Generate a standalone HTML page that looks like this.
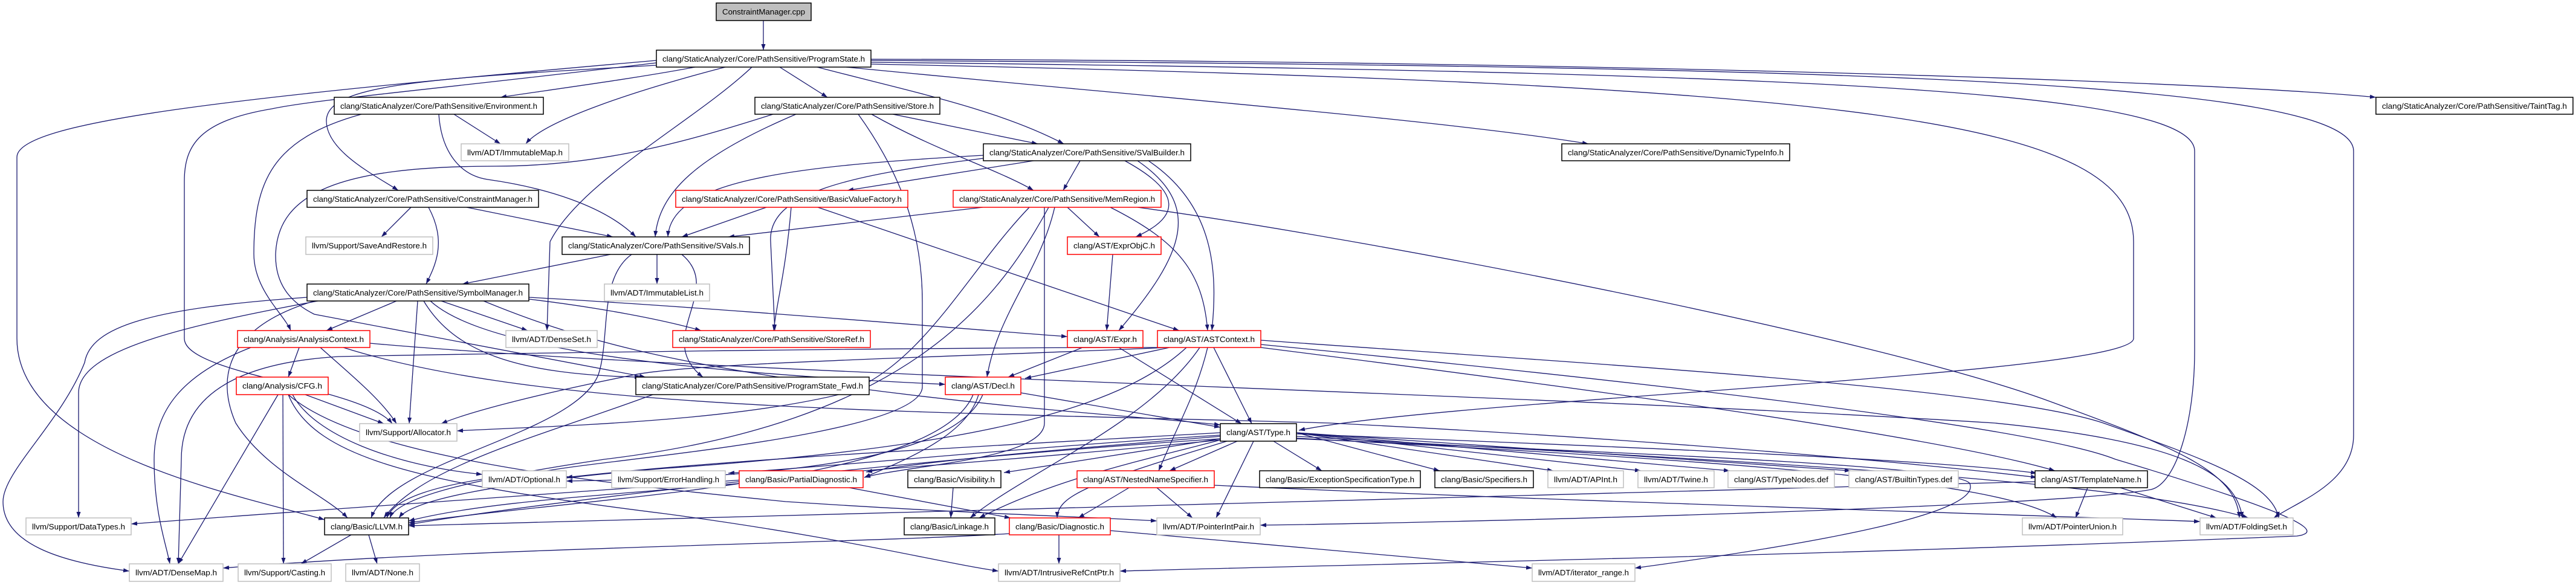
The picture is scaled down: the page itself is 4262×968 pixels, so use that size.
<!DOCTYPE html>
<html><head><meta charset="utf-8"><style>
html,body{margin:0;padding:0;background:#fff}
svg{display:block}
text{font-family:"Liberation Sans",sans-serif;font-size:13px;fill:#000}
.e{fill:none;stroke:#191970;stroke-width:1.3;marker-end:url(#a)}
.b{fill:#fff;stroke:#000;stroke-width:1.5}
.r{fill:#fff;stroke:#f00;stroke-width:1.5}
.g{fill:#fff;stroke:#bfbfbf;stroke-width:1.5}
</style></head><body>
<svg width="4262" height="968" viewBox="0 0 4262 968" xmlns="http://www.w3.org/2000/svg">
<defs><marker id="a" markerUnits="userSpaceOnUse" markerWidth="12" markerHeight="10" refX="10" refY="3.5" orient="auto"><path d="M0,0 L10,3.5 L0,7 z" fill="#191970"/></marker></defs>
<g>
<path class="e" d="M1263,34 L1263,83"/>
<path class="e" d="M1150,111 C1050,130 900,150 828,161"/>
<path class="e" d="M1200,111 C1050,150 900,200 870,238"/>
<path class="e" d="M1086,108 C700,130 540,140 540,200 C540,250 620,290 659,315"/>
<path class="e" d="M1290,111 L1369,161"/>
<path class="e" d="M1352,111 C1500,150 1650,180 1760,238"/>
<path class="e" d="M1400,111 C1900,160 2400,200 2628,238"/>
<path class="e" d="M1441,98 C2500,100 3600,130 3931,161"/>
<path class="e" d="M1441,100 C3000,110 3894,130 3894,250 L3894,720 C3894,800 3800,830 3762,857"/>
<path class="e" d="M1441,103 C3000,120 3631,150 3631,250 L3631,580 C3631,700 3600,800 3559,810 C3400,840 2400,865 2085,869"/>
<path class="e" d="M1441,106 C3100,140 3530,200 3530,400 L3530,560 C3530,620 2400,660 2149,712"/>
<path class="e" d="M1086,100 C400,160 28,200 28,260 L28,560 C28,750 400,820 537,860"/>
<path class="e" d="M1086,104 C700,150 520,165 450,180 C330,200 305,240 305,300 L305,560 C305,620 600,640 649,701"/>
<path class="e" d="M1244,111 C1150,200 960,300 910,400 L905,547"/>
<path class="e" d="M1279,189 C1150,230 1000,275 820,275 C560,275 460,320 456,420 C455,470 480,500 520,520 L1068,624"/>
<path class="e" d="M598,189 C450,230 420,300 420,420 C420,480 470,520 481,547"/>
<path class="e" d="M751,189 L828,238"/>
<path class="e" d="M726,189 C730,250 760,290 807,297 C900,310 1000,340 1052,392"/>
<path class="e" d="M680,343 L631,392"/>
<path class="e" d="M709,343 C740,400 720,440 705,470"/>
<path class="e" d="M772,343 L1014,392"/>
<path class="e" d="M1317,189 C1150,260 1090,320 1084,392"/>
<path class="e" d="M1420,189 C1500,300 1526,400 1526,500 L1526,640 C1526,720 1000,760 900,780 C700,800 650,830 640,857"/>
<path class="e" d="M1442,189 C1550,250 1650,280 1710,315"/>
<path class="e" d="M1477,189 L1717,238"/>
<path class="e" d="M1627,257 C1300,275 1110,300 1105,392"/>
<path class="e" d="M1627,262 C1400,290 1270,320 1275,400 L1282,547"/>
<path class="e" d="M1710,266 L1402,315"/>
<path class="e" d="M1787,266 L1759,315"/>
<path class="e" d="M1861,266 C1960,320 1950,360 1879,392"/>
<path class="e" d="M1882,266 C1990,340 1960,420 1851,547"/>
<path class="e" d="M1900,266 C2010,340 2015,450 2005,547"/>
<path class="e" d="M1882,343 C2300,400 3100,560 3380,660 C3600,740 3700,780 3705,857"/>
<path class="e" d="M1626,343 L1205,392"/>
<path class="e" d="M1766,343 L1819,392"/>
<path class="e" d="M1703,343 C1600,450 1530,600 1400,650 C1200,700 900,705 756,713"/>
<path class="e" d="M1735,343 C1650,500 1500,700 1000,760 C800,790 660,820 645,857"/>
<path class="e" d="M1745,343 C1720,450 1650,520 1633,624"/>
<path class="e" d="M1728,343 L1728,700 C1728,760 1500,770 1430,790"/>
<path class="e" d="M1837,343 C1950,400 1990,450 1998,547"/>
<path class="e" d="M1268,343 L1128,392"/>
<path class="e" d="M1309,343 C1300,450 1285,500 1280,547"/>
<path class="e" d="M1353,343 L1951,547"/>
<path class="e" d="M1841,421 L1831,547"/>
<path class="e" d="M1128,421 C1200,480 1080,560 1163,624"/>
<path class="e" d="M1087,421 L1087,470"/>
<path class="e" d="M1010,421 L765,470"/>
<path class="e" d="M1045,421 C990,460 1010,560 990,620 C950,720 650,760 614,857"/>
<path class="e" d="M508,492 C250,510 150,540 140,600 C100,700 5,780 5,830 C5,900 100,930 214,945"/>
<path class="e" d="M526,498 C300,540 130,580 130,650 L130,857"/>
<path class="e" d="M656,498 L540,547"/>
<path class="e" d="M691,498 L677,701"/>
<path class="e" d="M730,498 L873,547"/>
<path class="e" d="M701,498 C750,580 850,620 1060,624"/>
<path class="e" d="M712,498 C780,560 1000,610 1564,636"/>
<path class="e" d="M875,492 C1200,510 1600,545 1766,557"/>
<path class="e" d="M800,498 C950,560 1100,600 1400,640 C1700,680 1900,690 2019,703"/>
<path class="e" d="M520,498 C380,540 355,620 390,700 C440,780 540,820 575,857"/>
<path class="e" d="M875,495 C1000,510 1100,530 1160,547"/>
<path class="e" d="M415,575 C300,620 255,680 255,760 C255,850 275,900 281,933"/>
<path class="e" d="M495,575 L477,624"/>
<path class="e" d="M530,575 C580,620 630,660 656,701"/>
<path class="e" d="M612,568 C1200,620 2500,650 3300,700 C3600,730 3700,780 3710,857"/>
<path class="e" d="M568,575 C900,680 1500,680 2200,700 C2800,730 3200,770 3370,790"/>
<path class="e" d="M460,653 L295,933"/>
<path class="e" d="M468,653 L469,933"/>
<path class="e" d="M505,653 L635,701"/>
<path class="e" d="M484,653 C520,720 650,770 798,785"/>
<path class="e" d="M477,653 C520,760 700,800 1100,850 C1400,890 1550,930 1652,945"/>
<path class="e" d="M477,653 C600,760 1000,800 1300,830 C1600,850 1800,855 1914,862"/>
<path class="e" d="M1791,575 L1668,624"/>
<path class="e" d="M1851,575 L2054,701"/>
<path class="e" d="M1935,575 L1696,626"/>
<path class="e" d="M1963,575 C1850,680 1600,740 1100,775 C800,800 680,830 660,857"/>
<path class="e" d="M1985,575 C1900,700 1700,780 1605,857"/>
<path class="e" d="M1998,575 C1980,650 1950,700 1917,779"/>
<path class="e" d="M2008,575 L2071,701"/>
<path class="e" d="M2086,563 C2600,600 3300,640 3480,700 C3650,760 3760,800 3770,857"/>
<path class="e" d="M2086,575 C2600,640 3200,720 3400,779"/>
<path class="e" d="M1931,575 C1600,590 1150,600 1050,620 C900,650 780,680 730,701"/>
<path class="e" d="M1915,575 C1500,575 800,585 560,590 C400,600 300,650 300,760 L295,933"/>
<path class="e" d="M2086,570 C2600,620 3350,700 3500,760 C3800,850 3850,880 3800,887 C3000,920 2200,935 1853,945"/>
<path class="e" d="M1689,650 L2019,707"/>
<path class="e" d="M1626,653 C1580,760 1300,790 937,796"/>
<path class="e" d="M1619,653 C1600,720 1500,760 1430,790"/>
<path class="e" d="M1610,653 C1550,800 1000,820 676,865"/>
<path class="e" d="M1080,653 C900,720 700,770 635,857"/>
<path class="e" d="M2019,716 C1600,740 1200,760 937,790"/>
<path class="e" d="M2019,720 C1700,740 1400,770 1205,783"/>
<path class="e" d="M2019,722 C1800,740 1550,760 1433,781"/>
<path class="e" d="M2019,726 L1661,782"/>
<path class="e" d="M2047,730 L1935,779"/>
<path class="e" d="M2074,730 L2012,857"/>
<path class="e" d="M2107,730 L2187,779"/>
<path class="e" d="M2145,716 L2382,779"/>
<path class="e" d="M2145,716 L2570,779"/>
<path class="e" d="M2145,716 L2715,779"/>
<path class="e" d="M2145,716 L2862,779"/>
<path class="e" d="M2145,716 L3062,779"/>
<path class="e" d="M2145,718 C2700,740 3200,760 3370,783"/>
<path class="e" d="M2145,725 C2800,760 3300,790 3403,857"/>
<path class="e" d="M2145,722 C2800,760 3500,790 3720,857"/>
<path class="e" d="M2145,726 C2700,750 3240,770 3259,800 C3280,850 3000,900 2705,940"/>
<path class="e" d="M2019,728 C1900,760 1750,790 1620,857"/>
<path class="e" d="M2030,730 C1800,800 1750,820 1749,857"/>
<path class="e" d="M2019,726 C1500,760 900,830 676,868"/>
<path class="e" d="M2019,728 C1500,780 700,830 217,867"/>
<path class="e" d="M1670,883 C1400,900 800,905 369,940"/>
<path class="e" d="M1752,885 L1752,933"/>
<path class="e" d="M1837,878 L2535,940"/>
<path class="e" d="M1868,807 L1784,857"/>
<path class="e" d="M1914,807 L1973,857"/>
<path class="e" d="M2009,803 C2600,830 3300,850 3640,863"/>
<path class="e" d="M1405,807 L1672,857"/>
<path class="e" d="M1223,800 C1000,820 800,830 676,862"/>
<path class="e" d="M1577,807 L1573,857"/>
<path class="e" d="M3454,807 L3434,857"/>
<path class="e" d="M3508,807 L3667,857"/>
<path class="e" d="M3367,797 C3000,810 2000,840 676,870"/>
<path class="e" d="M581,885 L498,933"/>
<path class="e" d="M610,885 L624,933"/>
</g>
<g>
<rect x="1185" y="5" width="157" height="29" fill="#bfbfbf" stroke="#000" stroke-width="1.5"/><text x="1263.5" y="24" text-anchor="middle" textLength="137" lengthAdjust="spacingAndGlyphs">ConstraintManager.cpp</text>
<rect class="b" x="1086" y="83" width="355" height="28"/><text x="1263.5" y="102" text-anchor="middle" textLength="335" lengthAdjust="spacingAndGlyphs">clang/StaticAnalyzer/Core/PathSensitive/ProgramState.h</text>
<rect class="b" x="553" y="161" width="346" height="28"/><text x="726" y="180" text-anchor="middle" textLength="326" lengthAdjust="spacingAndGlyphs">clang/StaticAnalyzer/Core/PathSensitive/Environment.h</text>
<rect class="b" x="1249" y="161" width="306" height="28"/><text x="1402" y="180" text-anchor="middle" textLength="286" lengthAdjust="spacingAndGlyphs">clang/StaticAnalyzer/Core/PathSensitive/Store.h</text>
<rect class="b" x="3931" y="161" width="326" height="28"/><text x="4094" y="180" text-anchor="middle" textLength="306" lengthAdjust="spacingAndGlyphs">clang/StaticAnalyzer/Core/PathSensitive/TaintTag.h</text>
<rect class="g" x="763" y="238" width="178" height="28"/><text x="852" y="257" text-anchor="middle" textLength="158" lengthAdjust="spacingAndGlyphs">llvm/ADT/ImmutableMap.h</text>
<rect class="b" x="1627" y="238" width="343" height="28"/><text x="1798.5" y="257" text-anchor="middle" textLength="323" lengthAdjust="spacingAndGlyphs">clang/StaticAnalyzer/Core/PathSensitive/SValBuilder.h</text>
<rect class="b" x="2584" y="238" width="377" height="28"/><text x="2772.5" y="257" text-anchor="middle" textLength="357" lengthAdjust="spacingAndGlyphs">clang/StaticAnalyzer/Core/PathSensitive/DynamicTypeInfo.h</text>
<rect class="b" x="508" y="315" width="383" height="28"/><text x="699.5" y="334" text-anchor="middle" textLength="363" lengthAdjust="spacingAndGlyphs">clang/StaticAnalyzer/Core/PathSensitive/ConstraintManager.h</text>
<rect class="r" x="1118" y="315" width="384" height="28"/><text x="1310" y="334" text-anchor="middle" textLength="364" lengthAdjust="spacingAndGlyphs">clang/StaticAnalyzer/Core/PathSensitive/BasicValueFactory.h</text>
<rect class="r" x="1577" y="315" width="344" height="28"/><text x="1749" y="334" text-anchor="middle" textLength="324" lengthAdjust="spacingAndGlyphs">clang/StaticAnalyzer/Core/PathSensitive/MemRegion.h</text>
<rect class="g" x="506" y="392" width="210" height="29"/><text x="611" y="411" text-anchor="middle" textLength="190" lengthAdjust="spacingAndGlyphs">llvm/Support/SaveAndRestore.h</text>
<rect class="b" x="930" y="392" width="310" height="29"/><text x="1085" y="411" text-anchor="middle" textLength="290" lengthAdjust="spacingAndGlyphs">clang/StaticAnalyzer/Core/PathSensitive/SVals.h</text>
<rect class="r" x="1766" y="392" width="155" height="29"/><text x="1843.5" y="411" text-anchor="middle" textLength="135" lengthAdjust="spacingAndGlyphs">clang/AST/ExprObjC.h</text>
<rect class="g" x="1000" y="470" width="174" height="28"/><text x="1087" y="489" text-anchor="middle" textLength="154" lengthAdjust="spacingAndGlyphs">llvm/ADT/ImmutableList.h</text>
<rect class="b" x="508" y="470" width="367" height="28"/><text x="691.5" y="489" text-anchor="middle" textLength="347" lengthAdjust="spacingAndGlyphs">clang/StaticAnalyzer/Core/PathSensitive/SymbolManager.h</text>
<rect class="r" x="393" y="547" width="219" height="28"/><text x="502.5" y="566" text-anchor="middle" textLength="199" lengthAdjust="spacingAndGlyphs">clang/Analysis/AnalysisContext.h</text>
<rect class="g" x="837" y="547" width="151" height="28"/><text x="912.5" y="566" text-anchor="middle" textLength="131" lengthAdjust="spacingAndGlyphs">llvm/ADT/DenseSet.h</text>
<rect class="r" x="1113" y="547" width="327" height="28"/><text x="1276.5" y="566" text-anchor="middle" textLength="307" lengthAdjust="spacingAndGlyphs">clang/StaticAnalyzer/Core/PathSensitive/StoreRef.h</text>
<rect class="r" x="1766" y="547" width="125" height="28"/><text x="1828.5" y="566" text-anchor="middle" textLength="105" lengthAdjust="spacingAndGlyphs">clang/AST/Expr.h</text>
<rect class="r" x="1915" y="547" width="171" height="28"/><text x="2000.5" y="566" text-anchor="middle" textLength="151" lengthAdjust="spacingAndGlyphs">clang/AST/ASTContext.h</text>
<rect class="r" x="391" y="624" width="152" height="29"/><text x="467" y="643" text-anchor="middle" textLength="132" lengthAdjust="spacingAndGlyphs">clang/Analysis/CFG.h</text>
<rect class="b" x="1052" y="624" width="386" height="29"/><text x="1245" y="643" text-anchor="middle" textLength="366" lengthAdjust="spacingAndGlyphs">clang/StaticAnalyzer/Core/PathSensitive/ProgramState_Fwd.h</text>
<rect class="r" x="1564" y="624" width="125" height="29"/><text x="1626.5" y="643" text-anchor="middle" textLength="105" lengthAdjust="spacingAndGlyphs">clang/AST/Decl.h</text>
<rect class="g" x="595" y="701" width="161" height="29"/><text x="675.5" y="720" text-anchor="middle" textLength="141" lengthAdjust="spacingAndGlyphs">llvm/Support/Allocator.h</text>
<rect class="b" x="2019" y="701" width="126" height="29"/><text x="2082" y="720" text-anchor="middle" textLength="106" lengthAdjust="spacingAndGlyphs">clang/AST/Type.h</text>
<rect class="g" x="798" y="779" width="139" height="28"/><text x="867.5" y="798" text-anchor="middle" textLength="119" lengthAdjust="spacingAndGlyphs">llvm/ADT/Optional.h</text>
<rect class="g" x="1012" y="779" width="188" height="28"/><text x="1106" y="798" text-anchor="middle" textLength="168" lengthAdjust="spacingAndGlyphs">llvm/Support/ErrorHandling.h</text>
<rect class="r" x="1223" y="779" width="205" height="28"/><text x="1325.5" y="798" text-anchor="middle" textLength="185" lengthAdjust="spacingAndGlyphs">clang/Basic/PartialDiagnostic.h</text>
<rect class="b" x="1502" y="779" width="154" height="28"/><text x="1579" y="798" text-anchor="middle" textLength="134" lengthAdjust="spacingAndGlyphs">clang/Basic/Visibility.h</text>
<rect class="r" x="1782" y="779" width="227" height="28"/><text x="1895.5" y="798" text-anchor="middle" textLength="207" lengthAdjust="spacingAndGlyphs">clang/AST/NestedNameSpecifier.h</text>
<rect class="b" x="2084" y="779" width="266" height="28"/><text x="2217" y="798" text-anchor="middle" textLength="246" lengthAdjust="spacingAndGlyphs">clang/Basic/ExceptionSpecificationType.h</text>
<rect class="b" x="2374" y="779" width="163" height="28"/><text x="2455.5" y="798" text-anchor="middle" textLength="143" lengthAdjust="spacingAndGlyphs">clang/Basic/Specifiers.h</text>
<rect class="g" x="2561" y="779" width="125" height="28"/><text x="2623.5" y="798" text-anchor="middle" textLength="105" lengthAdjust="spacingAndGlyphs">llvm/ADT/APInt.h</text>
<rect class="g" x="2710" y="779" width="126" height="28"/><text x="2773" y="798" text-anchor="middle" textLength="106" lengthAdjust="spacingAndGlyphs">llvm/ADT/Twine.h</text>
<rect class="g" x="2859" y="779" width="176" height="28"/><text x="2947" y="798" text-anchor="middle" textLength="156" lengthAdjust="spacingAndGlyphs">clang/AST/TypeNodes.def</text>
<rect class="g" x="3059" y="779" width="181" height="28"/><text x="3149.5" y="798" text-anchor="middle" textLength="161" lengthAdjust="spacingAndGlyphs">clang/AST/BuiltinTypes.def</text>
<rect class="b" x="3367" y="779" width="186" height="28"/><text x="3460" y="798" text-anchor="middle" textLength="166" lengthAdjust="spacingAndGlyphs">clang/AST/TemplateName.h</text>
<rect class="g" x="43" y="857" width="174" height="28"/><text x="130" y="876" text-anchor="middle" textLength="154" lengthAdjust="spacingAndGlyphs">llvm/Support/DataTypes.h</text>
<rect class="b" x="537" y="857" width="139" height="28"/><text x="606.5" y="876" text-anchor="middle" textLength="119" lengthAdjust="spacingAndGlyphs">clang/Basic/LLVM.h</text>
<rect class="b" x="1496" y="857" width="150" height="28"/><text x="1571" y="876" text-anchor="middle" textLength="130" lengthAdjust="spacingAndGlyphs">clang/Basic/Linkage.h</text>
<rect class="r" x="1670" y="857" width="167" height="28"/><text x="1753.5" y="876" text-anchor="middle" textLength="147" lengthAdjust="spacingAndGlyphs">clang/Basic/Diagnostic.h</text>
<rect class="g" x="1914" y="857" width="171" height="28"/><text x="1999.5" y="876" text-anchor="middle" textLength="151" lengthAdjust="spacingAndGlyphs">llvm/ADT/PointerIntPair.h</text>
<rect class="g" x="3346" y="857" width="166" height="28"/><text x="3429" y="876" text-anchor="middle" textLength="146" lengthAdjust="spacingAndGlyphs">llvm/ADT/PointerUnion.h</text>
<rect class="g" x="3640" y="857" width="154" height="28"/><text x="3717" y="876" text-anchor="middle" textLength="134" lengthAdjust="spacingAndGlyphs">llvm/ADT/FoldingSet.h</text>
<rect class="g" x="214" y="933" width="155" height="29"/><text x="291.5" y="952" text-anchor="middle" textLength="135" lengthAdjust="spacingAndGlyphs">llvm/ADT/DenseMap.h</text>
<rect class="g" x="394" y="933" width="154" height="29"/><text x="471" y="952" text-anchor="middle" textLength="134" lengthAdjust="spacingAndGlyphs">llvm/Support/Casting.h</text>
<rect class="g" x="572" y="933" width="122" height="29"/><text x="633" y="952" text-anchor="middle" textLength="102" lengthAdjust="spacingAndGlyphs">llvm/ADT/None.h</text>
<rect class="g" x="1652" y="933" width="201" height="29"/><text x="1752.5" y="952" text-anchor="middle" textLength="181" lengthAdjust="spacingAndGlyphs">llvm/ADT/IntrusiveRefCntPtr.h</text>
<rect class="g" x="2535" y="933" width="170" height="29"/><text x="2620" y="952" text-anchor="middle" textLength="150" lengthAdjust="spacingAndGlyphs">llvm/ADT/iterator_range.h</text>
</g>
</svg>
</body></html>
